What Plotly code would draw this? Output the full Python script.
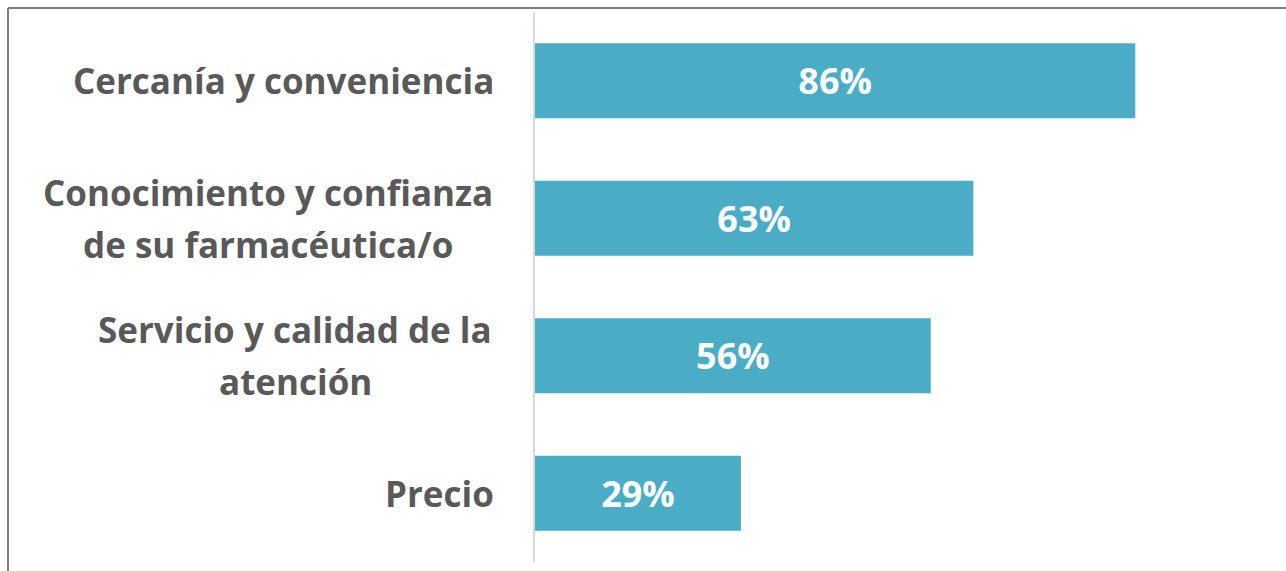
import plotly.graph_objects as go

categories = [
    ["Cercanía y conveniencia"],
    ["Conocimiento y confianza", "de su farmacéutica/o"],
    ["Servicio y calidad de la", "atención"],
    ["Precio"],
]
values = [86, 62.8, 56.7, 29.5]
value_labels = ["86%", "63%", "56%", "29%"]

W, H = 1286, 571
L, R, T, B = 535, 53, 12, 9
pw = W - L - R
ph = H - T - B

cat_ids = list(range(len(categories)))

fig = go.Figure()
fig.add_trace(go.Bar(
    x=values,
    y=cat_ids,
    orientation="h",
    marker=dict(color="#4BACC6", line=dict(width=0)),
    width=0.545,
    text=value_labels,
    textposition="inside",
    insidetextanchor="middle",
    textfont=dict(family="Open Sans", size=36, color="white", weight="bold"),
    constraintext="none",
    hoverinfo="skip",
))

fig.update_layout(
    width=W, height=H,
    margin=dict(l=L, r=R, t=T, b=B, pad=0),
    plot_bgcolor="white", paper_bgcolor="white",
    showlegend=False,
    bargap=0.455,
    xaxis=dict(range=[0, 100], visible=False, fixedrange=True),
    yaxis=dict(
        range=[len(categories) - 0.5, -0.5],
        showticklabels=False, showgrid=False, zeroline=False,
        showline=True, linecolor="#D9D9D9", linewidth=2,
        ticks="",
    ),
)

FS = 35
right_px = 496          # right edge of label box
line_gap = 52
# horizontal centre (px) of wrapped, centre-aligned label blocks
block_centre_px = {1: 268, 2: 295}

ann = []
for i, lines in enumerate(categories):
    n = len(lines)
    for j, ln in enumerate(lines):
        shift = -(j - (n - 1) / 2) * line_gap
        if n == 1:
            x, xa = (right_px - L) / pw, "right"
        else:
            x, xa = (block_centre_px[i] - L) / pw, "center"
        ann.append(dict(
            x=x, xref="paper", y=i, yref="y",
            xanchor=xa, yanchor="middle",
            yshift=shift,
            text="<b>" + ln + "</b>",
            showarrow=False,
            font=dict(family="Open Sans", size=FS, color="#595959"),
        ))

# Outer frame (top and left edges)
x0 = (8 - L) / pw
y_top = 1 + (T - 8) / ph
shapes = [
    dict(type="line", xref="paper", yref="paper", x0=x0, x1=(W + 10 - L) / pw, y0=y_top, y1=y_top,
         line=dict(color="#7F7F7F", width=2)),
    dict(type="line", xref="paper", yref="paper", x0=x0, x1=x0, y0=y_top, y1=-(B + 10) / ph,
         line=dict(color="#7F7F7F", width=2)),
]
fig.update_layout(annotations=ann, shapes=shapes)

fig.write_html("out.html")
